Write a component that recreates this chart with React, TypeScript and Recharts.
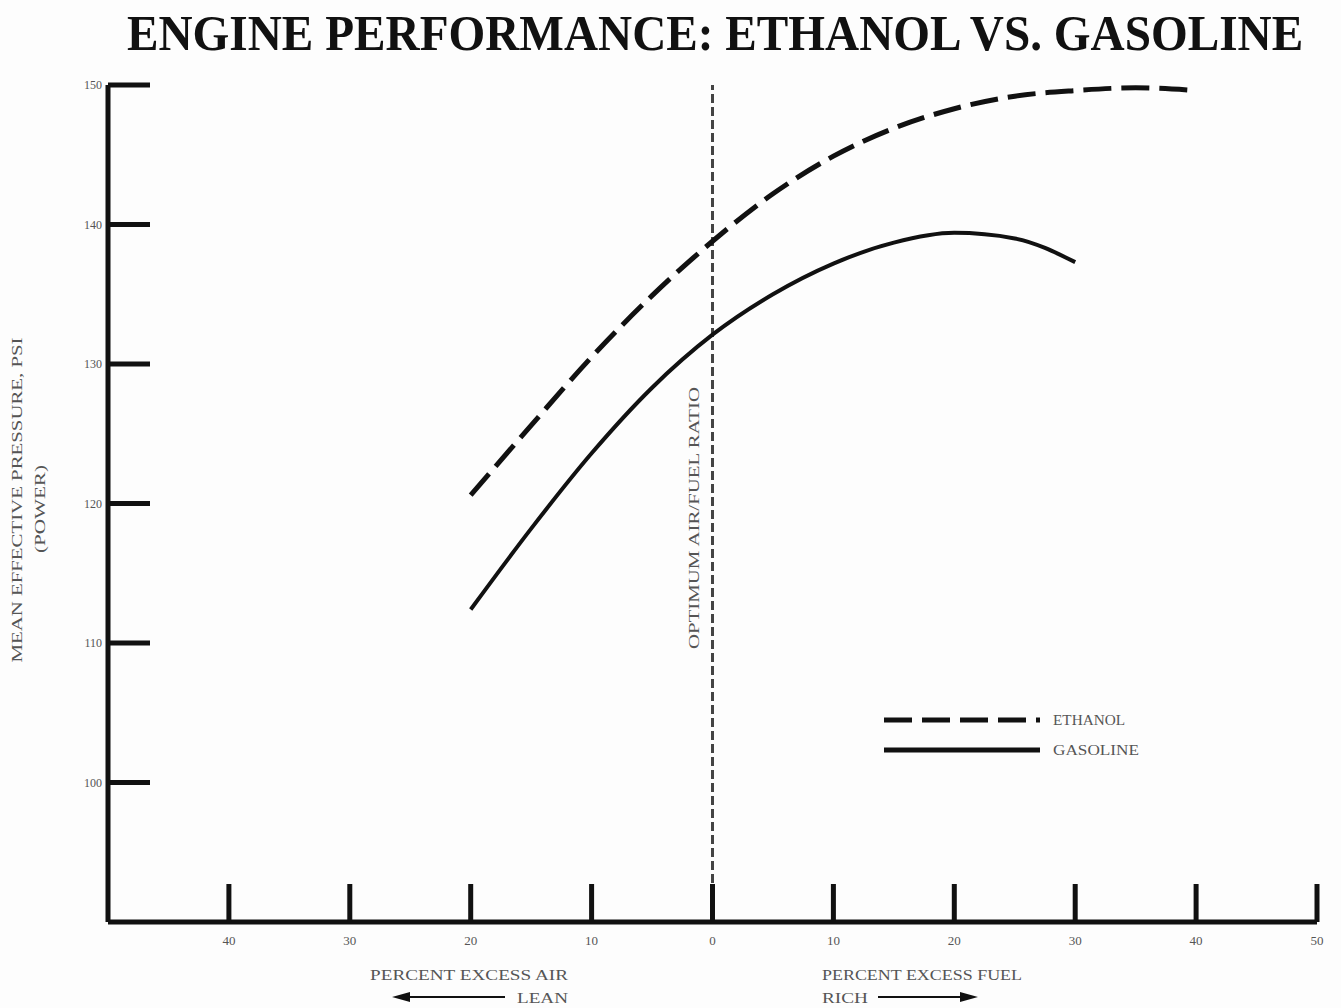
import React from 'react';
import { LineChart, Line, XAxis, YAxis, ReferenceLine } from 'recharts';

// percent excess air (negative, lean side) / excess fuel (positive, rich side)
const ethanolX = [-20, -15, -10, -5, 0, 5, 10, 15, 20, 25, 30, 35, 40];
const ethanolMep = [120.6, 125.6, 130.5, 134.9, 138.8, 142.2, 144.9, 146.9, 148.3, 149.2, 149.6, 149.8, 149.6];

const gasolineX = [-20, -15, -10, -5, 0, 5, 10, 15, 20, 25, 30];
const gasolineMep = [112.4, 118.2, 123.6, 128.3, 132.1, 135.0, 137.2, 138.7, 139.4, 139.0, 137.3];

const xTicks = [-40, -30, -20, -10, 0, 10, 20, 30, 40, 50];
const yTicks = [100, 110, 120, 130, 140, 150];

const ethanolData = ethanolX.map((x, i) => ({ x, y: ethanolMep[i] }));
const gasolineData = gasolineX.map((x, i) => ({ x, y: gasolineMep[i] }));

const INK = '#111';
const GREY_TEXT = '#555';
const SERIF = '"Liberation Serif", "DejaVu Serif", serif';

// ticks point inwards from the axis, labels sit outside
const XTick = (props: any) => {
  const { x, y, payload } = props;
  return (
    <g>
      <line x1={x} y1={y} x2={x} y2={y - 38} stroke={INK} strokeWidth={5} />
      <text x={x} y={y + 23} textAnchor="middle" fontSize={13} fill={GREY_TEXT} fontFamily={SERIF}>
        {Math.abs(payload.value)}
      </text>
    </g>
  );
};

const YTick = (props: any) => {
  const { x, y, payload } = props;
  return (
    <g>
      <line x1={x} y1={y} x2={x + 42} y2={y} stroke={INK} strokeWidth={5} />
      <text x={x - 6} y={y + 4} textAnchor="end" fontSize={12} fill={GREY_TEXT} fontFamily={SERIF}>
        {payload.value}
      </text>
    </g>
  );
};

export default function App() {
  return (
    <div style={{ position: 'absolute', left: 0, top: 0, width: 1341, height: 1008, background: '#fdfdfd' }}>
      <LineChart width={1341} height={1008} margin={{ top: 85, right: 24, bottom: 56, left: 60 }}>
        <XAxis
          dataKey="x"
          type="number"
          domain={[-50, 50]}
          ticks={xTicks}
          allowDataOverflow
          height={30}
          tickSize={0}
          tickMargin={0}
          tick={<XTick />}
          axisLine={{ stroke: INK, strokeWidth: 5 }}
          interval={0}
        />
        <YAxis
          dataKey="y"
          type="number"
          domain={[90, 150]}
          ticks={yTicks}
          allowDataOverflow
          width={48}
          tickSize={0}
          tickMargin={0}
          tick={<YTick />}
          axisLine={{ stroke: INK, strokeWidth: 5 }}
          interval={0}
        />
        <ReferenceLine
          x={0}
          stroke="#444"
          strokeWidth={3}
          strokeDasharray="9 4"
          label={(props: any) => {
            const { viewBox } = props;
            const cx = viewBox.x - 14;
            const cy = 518;
            return (
              <text
                x={cx}
                y={cy}
                transform={`rotate(-90 ${cx} ${cy})`}
                textAnchor="middle"
                fontSize={14}
                fill={GREY_TEXT}
                fontFamily={SERIF}
                textLength={262}
                lengthAdjust="spacingAndGlyphs"
              >
                OPTIMUM AIR/FUEL RATIO
              </text>
            );
          }}
        />
        <Line
          data={ethanolData}
          dataKey="y"
          name="Ethanol"
          type="monotone"
          stroke={INK}
          strokeWidth={5}
          strokeDasharray="28 10"
          dot={false}
          isAnimationActive={false}
        />
        <Line
          data={gasolineData}
          dataKey="y"
          name="Gasoline"
          type="monotone"
          stroke={INK}
          strokeWidth={4}
          dot={false}
          isAnimationActive={false}
        />
      </LineChart>

      {/* title, legend, axis captions and the lean/rich arrows */}
      <svg
        width={1341}
        height={1008}
        style={{ position: 'absolute', left: 0, top: 0, pointerEvents: 'none' }}
      >
        {/* condensed heading: squeeze horizontally with a transform */}
        <text
          x={0}
          y={0}
          transform="translate(127 50) scale(0.78 1)"
          fontSize={51}
          fontWeight="bold"
          fill={INK}
          fontFamily={SERIF}
          textLength={1508}
          lengthAdjust="spacingAndGlyphs"
        >
          ENGINE PERFORMANCE:  ETHANOL VS. GASOLINE
        </text>

        <line x1={884} y1={720} x2={1040} y2={720} stroke={INK} strokeWidth={5} strokeDasharray="28 10" />
        <text x={1053} y={725} fontSize={14} fill={GREY_TEXT} fontFamily={SERIF} textLength={72} lengthAdjust="spacingAndGlyphs">
          ETHANOL
        </text>
        <line x1={884} y1={750} x2={1040} y2={750} stroke={INK} strokeWidth={5} />
        <text x={1053} y={755} fontSize={14} fill={GREY_TEXT} fontFamily={SERIF} textLength={86} lengthAdjust="spacingAndGlyphs">
          GASOLINE
        </text>

        <text
          x={22}
          y={500}
          transform="rotate(-90 22 500)"
          textAnchor="middle"
          fontSize={14}
          fill={GREY_TEXT}
          fontFamily={SERIF}
          textLength={325}
          lengthAdjust="spacingAndGlyphs"
        >
          MEAN EFFECTIVE PRESSURE, PSI
        </text>
        <text
          x={45}
          y={509}
          transform="rotate(-90 45 509)"
          textAnchor="middle"
          fontSize={14}
          fill={GREY_TEXT}
          fontFamily={SERIF}
          textLength={88}
          lengthAdjust="spacingAndGlyphs"
        >
          (POWER)
        </text>

        <text x={370} y={980} fontSize={15} fill={GREY_TEXT} fontFamily={SERIF} textLength={198} lengthAdjust="spacingAndGlyphs">
          PERCENT EXCESS AIR
        </text>
        <text x={517} y={1003} fontSize={15} fill={GREY_TEXT} fontFamily={SERIF} textLength={51} lengthAdjust="spacingAndGlyphs">
          LEAN
        </text>
        <line x1={400} y1={997} x2={505} y2={997} stroke={INK} strokeWidth={2} />
        <polygon points="392,997 410,992 410,1002" fill={INK} />

        <text x={822} y={980} fontSize={15} fill={GREY_TEXT} fontFamily={SERIF} textLength={200} lengthAdjust="spacingAndGlyphs">
          PERCENT EXCESS FUEL
        </text>
        <text x={822} y={1003} fontSize={15} fill={GREY_TEXT} fontFamily={SERIF} textLength={46} lengthAdjust="spacingAndGlyphs">
          RICH
        </text>
        <line x1={878} y1={997} x2={970} y2={997} stroke={INK} strokeWidth={2} />
        <polygon points="978,997 960,992 960,1002" fill={INK} />
      </svg>
    </div>
  );
}
